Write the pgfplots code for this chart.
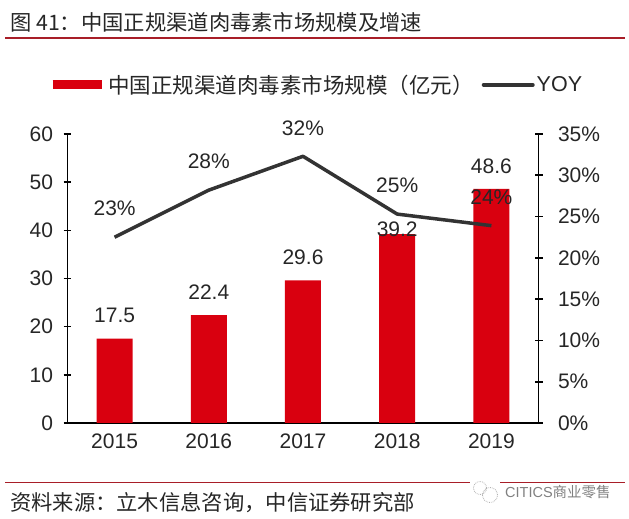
\documentclass[border=0pt]{standalone}
\usepackage{pgfplots}
\pgfplotsset{compat=1.18}
\usepackage{fontspec}
\setmainfont{Liberation Sans}
\newfontfamily\cjk{Noto Sans CJK SC}
\definecolor{barred}{HTML}{D9000F}
\definecolor{linegray}{HTML}{333333}
\definecolor{rulered}{HTML}{A81E28}
\definecolor{txt}{HTML}{262626}

\pgfplotsset{
	base/.style={
		at={(67.5pt,96pt)}, anchor=south west,
		width=471pt, height=289pt, scale only axis,
		xmin=-0.5, xmax=4.5,
		clip=false,
		tick align=inside,
		major tick length=8pt,
		every tick/.style={black, line width=1.6pt},
		axis line style={black, line width=1.6pt},
		tick label style={font=\fontsize{21}{21}\selectfont, text=txt},
		/pgf/number format/assume math mode=true,
	},
}

\begin{document}
\begin{tikzpicture}[x=1pt, y=1pt]
	\path (0,0) rectangle (629,519);

	\node[anchor=west, inner sep=0pt, text=txt, font=\fontsize{21.3}{21.3}\selectfont\cjk] at (10,497) {图 41：中国正规渠道肉毒素市场规模及增速};
	\draw[rulered, line width=1.8pt] (5,481) -- (625,481);

	\begin{axis}[base,
		axis y line=left, axis x line=bottom,
		x axis line style={-}, y axis line style={-},
		ymin=0, ymax=60, ytick={0,10,...,60},
		xtick={0,1,2,3,4}, xticklabels={2015,2016,2017,2018,2019},
		xtick style={draw=none},
		yticklabel style={xshift=-7pt},
		xticklabel style={yshift=-3pt},
		legend columns=2,
		legend style={at={(0.528,1.17)}, anchor=center, draw=none, fill=none,
			font=\fontsize{21.5}{21.5}\selectfont, text=txt,
			/tikz/every even column/.append style={column sep=6pt}},
		legend image code/.code={\draw[#1] (0,0) -- (49pt,0);},
	]
	\addplot[ybar, bar width=36pt, fill=barred, draw=none, forget plot,
		point meta=explicit symbolic,
		nodes near coords, every node near coord/.style={font=\fontsize{21}{21}\selectfont, text=txt, yshift=12pt},
		coordinate style/.condition={x==3}{yshift=-18pt}]
		table[meta=v] {
		x y v
		0 17.5 17.5
		1 22.4 22.4
		2 29.6 29.6
		3 39.2 39.2
		4 48.6 48.6
	};
	\addlegendimage{barred, line width=9pt}
	\addlegendentry{{\cjk 中国正规渠道肉毒素市场规模（亿元）}}
	\addlegendimage{linegray, line width=4pt, line cap=round}
	\addlegendentry{YOY}
	\end{axis}

	\begin{axis}[base,
		axis y line=right, axis x line=none,
		y axis line style={-},
		ymin=0, ymax=35, ytick={0,5,...,35},
		yticklabel={\pgfmathprintnumber{\tick}\%},
		yticklabel style={xshift=12pt},
	]
	\addplot[linegray, line width=3.5pt, line join=round,
		point meta=explicit symbolic,
		nodes near coords, every node near coord/.style={font=\fontsize{21}{21}\selectfont, text=txt, yshift=16pt}]
		table[meta=v] {
		x y v
		0 22.5 23\%
		1 28.2 28\%
		2 32.3 32\%
		3 25.3 25\%
		4 23.9 24\%
	};
	\end{axis}

	\draw[rulered, line width=0.8pt] (5,37) -- (625,37);
	\node[anchor=west, inner sep=0pt, text=txt, font=\fontsize{21.3}{21.3}\selectfont\cjk] at (10,16) {资料来源：立木信息咨询，中信证券研究部};
	\fill[white] (470,18) rectangle (500,38);
	\draw[gray!60, densely dotted, line width=0.8pt] (480,31) circle (6.5) (490,24) circle (7.5);
	\node[anchor=west, inner sep=0pt, text=gray, font=\fontsize{14.5}{14.5}\selectfont] at (505,27) {CITICS{\cjk 商业零售}};
\end{tikzpicture}
\end{document}
